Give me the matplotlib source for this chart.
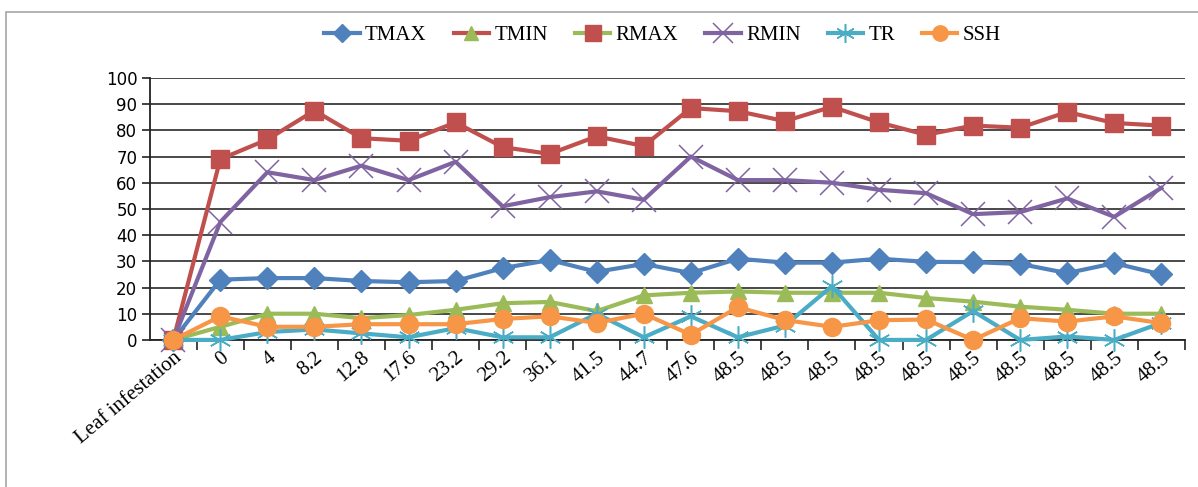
import numpy as np
import matplotlib
matplotlib.use("Agg")
import matplotlib.pyplot as plt
from matplotlib.lines import Line2D
from matplotlib.patches import Rectangle

# -----------------------------
# Data
# -----------------------------

labels = ["Leaf infestation", "0", "4", "8.2", "12.8", "17.6", "23.2", "29.2",
          "36.1", "41.5", "44.7", "47.6", "48.5", "48.5", "48.5", "48.5",
          "48.5", "48.5", "48.5", "48.5", "48.5", "48.5"]

tmax = [0, 23, 23.6, 23.6, 22.5, 22, 22.5, 27.4, 30.5, 26, 29, 25.5,
        31, 29.5, 29.5, 31, 29.8, 29.7, 29, 25.5, 29.3, 25]
tmin = [0, 5, 10, 10, 8.3, 9.5, 11.5, 14, 14.5, 11, 17, 18,
        18.5, 18, 18, 18, 16, 14.6, 12.7, 11.5, 10, 10]
rmax = [0, 69, 76.5, 87.5, 77, 76, 83, 73.6, 71, 77.7, 74, 88.5,
        87.3, 83.5, 89, 83, 78.3, 81.8, 81, 87, 82.8, 81.8]
rmin = [0, 45, 64, 61, 66.5, 61, 68, 51, 54.5, 56.7, 53.5, 70,
        61, 61, 60, 57.3, 56, 48, 48.8, 54, 47, 58]
tr = [0, 0, 3, 4, 2.5, 1, 4.5, 1, 1, 10, 1, 9,
      1, 5.5, 20.5, 0, 0, 11, 0, 1.3, 0, 6.5]
ssh = [0, 9, 5, 5, 6, 6, 6, 8, 9, 6.5, 10, 2,
       12.5, 7.6, 5, 7.5, 7.8, 0, 8.3, 7, 9, 6.4]

names = ["TMAX", "TMIN", "RMAX", "RMIN", "TR", "SSH"]
series = [tmax, tmin, rmax, rmin, tr, ssh]
colors = ["#4F81BD", "#9BBB59", "#C0504D", "#8064A2", "#4BACC6", "#F79646"]
markers = ["D", "^", "s", "x", (6, 2, 0), "o"]
msizes = [11, 12, 13, 17, 16, 13]
mews = [1, 1, 1, 1.1, 1.1, 1]

# -----------------------------
# Plot
# -----------------------------

fig = plt.figure(figsize=(11.98, 4.87), dpi=100)
ax = fig.add_axes([0.125, 0.302, 0.864, 0.538])

x = np.arange(len(labels))
for vals, c, m, ms, mew in zip(series, colors, markers, msizes, mews):
    ax.plot(x, vals, color=c, lw=3, marker=m, markersize=ms,
            markeredgewidth=mew, markeredgecolor=c, markerfacecolor=c,
            clip_on=False, zorder=3)

ax.set_xlim(-0.5, len(labels) - 0.5)
ax.set_ylim(0, 100)
ax.set_yticks(np.arange(0, 101, 10))
ax.yaxis.grid(True, color="#3a3a3a", lw=1.3)
ax.set_axisbelow(True)

ax.set_xticks(x)
ax.set_xticklabels(labels, rotation=40, ha="right", va="top",
                   rotation_mode="anchor", fontsize=15,
                   family="Liberation Serif")
ax.set_xticks(np.arange(0.5, len(labels), 1), minor=True)
ax.tick_params(axis="x", which="major", length=0, pad=6)
ax.tick_params(axis="x", which="minor", length=7, width=1.2, color="#222222")
ax.tick_params(axis="y", length=6, width=1.2, color="#222222",
               labelsize=12, pad=3)

for s in ["top", "right"]:
    ax.spines[s].set_visible(False)
for s in ["left", "bottom"]:
    ax.spines[s].set_color("#222222")
    ax.spines[s].set_linewidth(1.3)

# legend (line colours of TMIN / RMAX appear swapped in the original)
leg_line = ["#4F81BD", "#C0504D", "#9BBB59", "#8064A2", "#4BACC6", "#F79646"]
handles = [Line2D([], [], color=lc, lw=3, marker=m, markersize=ms * 0.85,
                  markeredgewidth=mew, markeredgecolor=c, markerfacecolor=c)
           for lc, c, m, ms, mew in zip(leg_line, colors, markers, msizes, mews)]
fig.legend(handles, names, loc="center", bbox_to_anchor=(0.553, 0.928),
           ncol=6, frameon=False, handlelength=1.7, handletextpad=0.25,
           columnspacing=1.3, prop={"family": "Liberation Serif", "size": 15})

# chart area border
fig.patches.append(Rectangle((6 / 1198, -0.1), 1.1, 1.1 - 12 / 487,
                             transform=fig.transFigure, fill=False,
                             edgecolor="#a6a6a6", lw=1.2))

plt.savefig("out.png", dpi=100)
